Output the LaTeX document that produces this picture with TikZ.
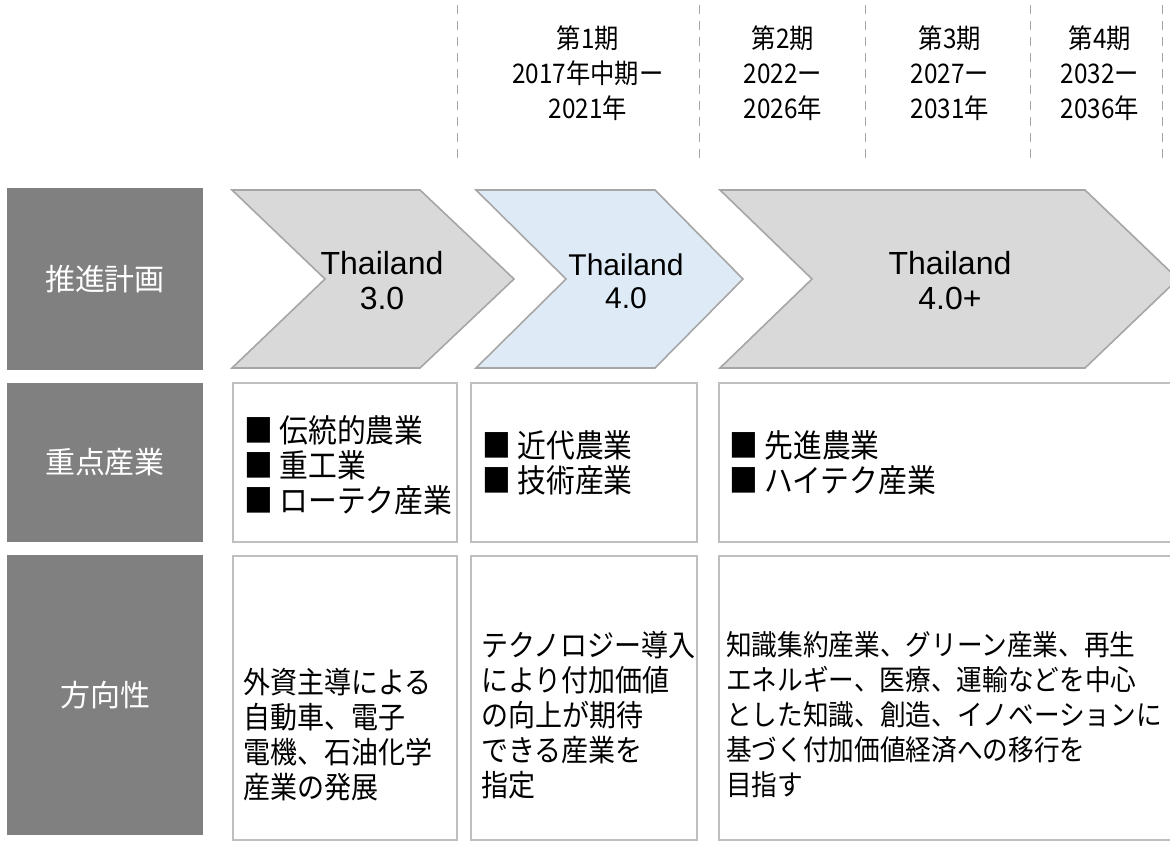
\documentclass[tikz,border=0pt]{standalone}
\usepackage{fontspec}
\setmainfont{Liberation Sans}
\newfontfamily\jp{Noto Sans CJK JP}
\newfontfamily\jpn[FakeStretch=0.9]{Noto Sans CJK JP}
\definecolor{labgray}{HTML}{808080}
\definecolor{chevgray}{HTML}{D9D9D9}
\definecolor{chevblue}{HTML}{DEEBF7}
\definecolor{edgegray}{HTML}{A6A6A6}
\definecolor{boxedge}{HTML}{BFBFBF}
\begin{document}
\begin{tikzpicture}[x=1pt,y=-1pt,
  labbox/.style={fill=labgray},
  labtext/.style={text=white, font=\jp\fontsize{30}{34}\selectfont, inner sep=0pt},
  chev/.style={draw=edgegray, line width=1.6pt, line join=miter},
  cbox/.style={draw=boxedge, line width=1.6pt, fill=white},
  jtext/.style={font=\jpn\fontsize{30}{35}\selectfont, align=left, inner sep=0pt, anchor=west},
  btext/.style={font=\jpn\fontsize{32}{35}\selectfont, align=left, inner sep=0pt, anchor=west},
  htext/.style={font=\jpn\fontsize{27}{35}\selectfont, align=center, inner sep=0pt},
  ctext/.style={font=\fontsize{32}{35}\selectfont, align=center, inner sep=0pt},
  divider/.style={draw=edgegray, line width=1pt, dash pattern=on 9pt off 7pt}]
\useasboundingbox (0,0) rectangle (1170,842);
\fill[white] (0,0) rectangle (1170,842);

% header dashed dividers
\foreach \xx/\nm in {457/d1,699/d2,865/d3,1030/d4,1162/d5}{
  \coordinate (\nm t) at (\xx,5);
  \coordinate (\nm b) at (\xx,165);
  \draw[divider] (\nm t) -- (\nm b);
}
% header texts
\node[htext] (p1) at (588,73) {第1期\\2017年中期ー\\2021年};
\node[htext] (p2) at (783,73) {第2期\\2022ー\\2026年};
\node[htext] (p3) at (950,73) {第3期\\2027ー\\2031年};
\node[htext] (p4) at (1100,73) {第4期\\2032ー\\2036年};

% label boxes
\fill[labbox] (7,188) rectangle (203,370);
\fill[labbox] (7,383) rectangle (203,542);
\fill[labbox] (7,555) rectangle (203,835);
\node[labtext] (l1) at (105,279) {推進計画};
\node[labtext] (l2) at (105,462) {重点産業};
\node[labtext] (l3) at (105,695) {方向性};

% chevrons
\draw[chev, fill=chevgray] (232,190) -- (420,190) -- (514,279) -- (420,368) -- (232,368) -- (325,279) -- cycle;
\draw[chev, fill=chevblue] (476,190) -- (655,190) -- (743,279) -- (655,368) -- (476,368) -- (566,279) -- cycle;
\draw[chev, fill=chevgray] (720,190) -- (1085,190) -- (1178,279) -- (1085,368) -- (720,368) -- (812,279) -- cycle;
\node[ctext] (c1) at (382,281) {Thailand\\3.0};
\node[ctext, font=\fontsize{30}{33}\selectfont] (c2) at (626,281) {Thailand\\4.0};
\node[ctext] (c3) at (950,281) {Thailand\\4.0+};

% row 2 boxes
\draw[cbox] (233,383) rectangle (457,542);
\draw[cbox] (471,383) rectangle (697,542);
\draw[cbox] (719,383) rectangle (1180,542);
\node[btext] (r21) at (244,465) {■ 伝統的農業\\■ 重工業\\■ ローテク産業};
\node[btext] (r22) at (482,463) {■ 近代農業\\■ 技術産業};
\node[btext] (r23) at (729,463) {■ 先進農業\\■ ハイテク産業};

% row 3 boxes
\draw[cbox] (233,556) rectangle (457,840);
\draw[cbox] (471,556) rectangle (697,840);
\draw[cbox] (719,556) rectangle (1180,840);
\node[jtext] (r31) at (243,735) {外資主導による\\自動車、電子\\電機、石油化学\\産業の発展};
\node[jtext] (r32) at (481,715) {テクノロジー導入\\により付加価値\\の向上が期待\\できる産業を\\指定};
\node[jtext, font=\jpn\fontsize{28.5}{35}\selectfont] (r33) at (726,715) {知識集約産業、グリーン産業、再生\\エネルギー、医療、運輸などを中心\\とした知識、創造、イノベーションに\\基づく付加価値経済への移行を\\目指す};
\end{tikzpicture}
\end{document}
